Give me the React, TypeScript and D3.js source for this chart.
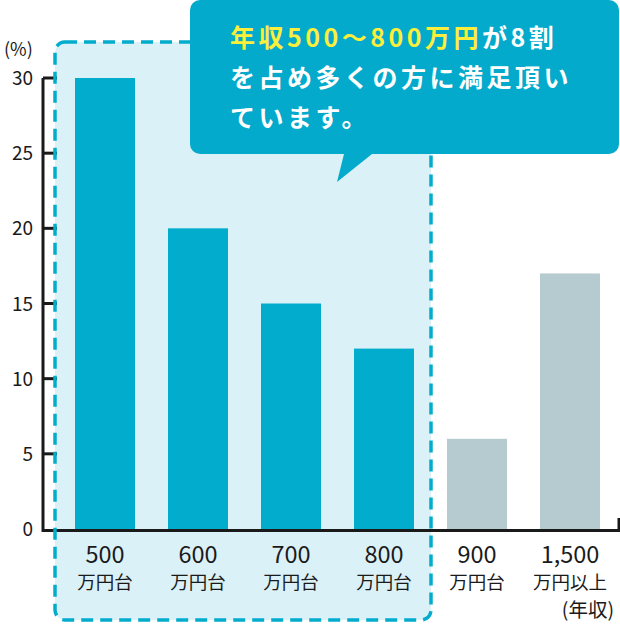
import React, { useRef, useEffect } from 'react';
import * as d3 from 'd3';

const categories = ['500', '600', '700', '800', '900', '1,500'];
const subLabels = ['万円台', '万円台', '万円台', '万円台', '万円台', '万円以上'];
const values = [30, 20, 15, 12, 6, 17];
const highlighted = [true, true, true, true, false, false];
const yTicks = [0, 5, 10, 15, 20, 25, 30];

const calloutLine1Yellow = '年収500〜800万円';
const calloutLine1White = 'が8割';
const calloutLines = ['を占め多くの方に満足頂い', 'ています。'];

const colors = {
  teal: '#02accd',
  bubble: '#03aacb',
  gray: '#b6cbd0',
  light: '#dbf1f8',
  yellow: '#fbee3c',
  ink: '#1a1a1a',
};

const FONT = '"Noto Sans CJK JP", "Noto Sans", sans-serif';

const App: React.FC = () => {
  const svgRef = useRef<SVGSVGElement>(null);
  const width = 620;
  const height = 624;

  useEffect(() => {
    if (!svgRef.current) return;
    const svg = d3.select(svgRef.current);
    svg.selectAll('*').remove();

    const axisX = 43;
    const x = d3.scaleBand<string>()
      .domain(categories)
      .range([58.5, 616.5])
      .paddingInner(0.355)
      .paddingOuter(0.1775);

    const y = d3.scaleLinear().domain([0, 30]).range([529, 78]);

    // highlighted region background
    const hl = categories.filter((_, i) => highlighted[i]);
    const boxLeft = 55;
    const boxRight = x(hl[hl.length - 1])! + x.bandwidth() + 17;
    svg.append('rect')
      .attr('x', boxLeft)
      .attr('y', 42)
      .attr('width', boxRight - boxLeft)
      .attr('height', 620 - 42)
      .attr('rx', 10)
      .attr('fill', colors.light);

    // bars
    svg.selectAll('.bar')
      .data(values)
      .enter()
      .append('rect')
      .attr('class', 'bar')
      .attr('x', (_, i) => x(categories[i])!)
      .attr('y', d => y(d))
      .attr('width', x.bandwidth())
      .attr('height', d => y(0) - y(d))
      .attr('fill', (_, i) => highlighted[i] ? colors.teal : colors.gray);

    // axes
    svg.append('path')
      .attr('d', `M${axisX},${y(30)}V${y(0) + 1.5}H619V518`)
      .attr('fill', 'none')
      .attr('stroke', colors.ink)
      .attr('stroke-width', 3);

    svg.selectAll('.tick')
      .data(yTicks.filter(t => t > 0))
      .enter()
      .append('line')
      .attr('x1', axisX)
      .attr('x2', 57)
      .attr('y1', d => y(d))
      .attr('y2', d => y(d))
      .attr('stroke', colors.ink)
      .attr('stroke-width', 3);

    svg.selectAll('.tick-label')
      .data(yTicks)
      .enter()
      .append('text')
      .attr('x', 33)
      .attr('y', d => y(d) + 7)
      .attr('text-anchor', 'end')
      .attr('font-family', FONT)
      .attr('font-size', 19)
      .attr('fill', colors.ink)
      .text(d => String(d));

    svg.append('text')
      .attr('x', 4)
      .attr('y', 56)
      .attr('font-family', FONT)
      .attr('font-size', 18)
      .attr('fill', colors.ink)
      .text('(%)');

    // category labels
    categories.forEach((c, i) => {
      const cx = x(c)! + x.bandwidth() / 2;
      svg.append('text')
        .attr('x', cx)
        .attr('y', 563)
        .attr('text-anchor', 'middle')
        .attr('font-family', FONT)
        .attr('font-size', 23.5)
        .attr('fill', colors.ink)
        .text(c);
      svg.append('text')
        .attr('x', cx)
        .attr('y', 589)
        .attr('text-anchor', 'middle')
        .attr('font-family', FONT)
        .attr('font-size', 18.5)
        .attr('fill', colors.ink)
        .text(subLabels[i]);
    });

    svg.append('text')
      .attr('x', 614)
      .attr('y', 617)
      .attr('text-anchor', 'end')
      .attr('font-family', FONT)
      .attr('font-size', 19.5)
      .attr('fill', colors.ink)
      .text('(年収)');

    // dashed border
    svg.append('rect')
      .attr('x', boxLeft)
      .attr('y', 42)
      .attr('width', boxRight - boxLeft)
      .attr('height', 620 - 42)
      .attr('rx', 10)
      .attr('fill', 'none')
      .attr('stroke', colors.teal)
      .attr('stroke-width', 3.5)
      .attr('stroke-dasharray', '12 7');

    // callout bubble
    const bubble = svg.append('g');
    bubble.append('rect')
      .attr('x', 190)
      .attr('y', 0)
      .attr('width', 429)
      .attr('height', 154)
      .attr('rx', 10)
      .attr('fill', colors.bubble);
    bubble.append('path')
      .attr('d', 'M345,150L337,182L377,150Z')
      .attr('fill', colors.bubble);

    const t1 = bubble.append('text')
      .attr('x', 230)
      .attr('y', 47)
      .attr('font-family', FONT)
      .attr('font-size', 25)
      .attr('font-weight', 700)
      .attr('letter-spacing', 3.5);
    t1.append('tspan').attr('fill', colors.yellow).text(calloutLine1Yellow);
    t1.append('tspan').attr('fill', '#fff').text(calloutLine1White);

    calloutLines.forEach((line, i) => {
      bubble.append('text')
        .attr('x', 230)
        .attr('y', 87 + i * 40)
        .attr('font-family', FONT)
        .attr('font-size', 25)
        .attr('font-weight', 700)
        .attr('letter-spacing', 3.5)
        .attr('fill', '#fff')
        .text(line);
    });
  }, []);

  return (
    <svg
      ref={svgRef}
      width={width}
      height={height}
      style={{ position: 'absolute', left: 0, top: 0, display: 'block' }}
    />
  );
};

export default App;
